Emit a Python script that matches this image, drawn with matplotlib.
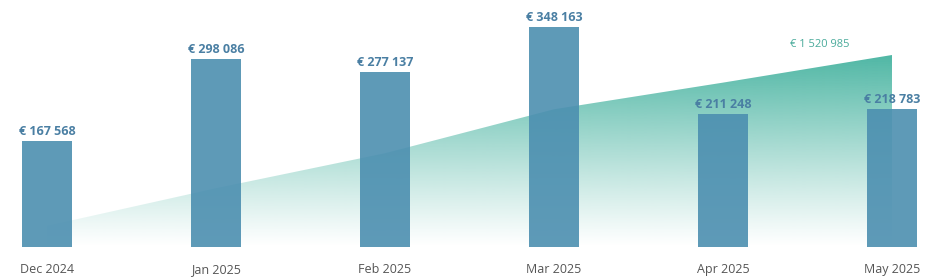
import numpy as np
import matplotlib.pyplot as plt
from matplotlib.colors import to_rgb

months = ["Dec 2024", "Jan 2025", "Feb 2025", "Mar 2025", "Apr 2025", "May 2025"]
revenue = [167568, 298086, 277137, 348163, 211248, 218783]
cumulative = np.cumsum(revenue)

bar_color = "#4c8fb0"
label_color = "#4a7fa3"
area_color = "#50b7a5"

def fmt_eur(v):
    return "€ " + "{:,}".format(int(v)).replace(",", " ")

plt.rcParams['font.family'] = 'Open Sans'

fig = plt.figure(figsize=(9.39, 2.79), dpi=100)
ax = fig.add_axes([22 / 939, 32 / 279, 895 / 939, 247 / 279])
ax2 = ax.twinx()
ax.set_zorder(ax2.get_zorder() + 1)
ax.patch.set_visible(False)

x = np.arange(len(months))

# cumulative area with vertical gradient
ymax2 = 1956700
ax2.set_ylim(0, ymax2)
poly = ax2.fill_between(x, 0, cumulative, color="none", lw=0)
top = cumulative.max()
n = 256
grad = np.zeros((n, 1, 4))
grad[:, 0, :3] = to_rgb(area_color)
grad[:, 0, 3] = np.linspace(1.0, 0.0, n) ** 1.1
img = ax2.imshow(grad, extent=[x[0], x[-1], 0, top], aspect="auto",
                 origin="upper", interpolation="bicubic", zorder=1)
img.set_clip_path(poly.get_paths()[0], transform=ax2.transData)
ax2.text(x[-1] - 0.43, cumulative[-1] + 36000, fmt_eur(cumulative[-1]),
         ha="center", va="bottom", fontsize=8, color="#4aab9b")

# monthly bars
ax.bar(x, revenue, width=0.296, color=bar_color, alpha=0.9, zorder=3)
for xi, v in zip(x, revenue):
    ax.annotate(fmt_eur(v), (xi, v), xytext=(0, 2), textcoords="offset points",
                ha="center", va="bottom", fontsize=9, fontweight="bold",
                color=label_color)

ax.set_xlim(-0.148, 5.148)
ax.set_ylim(0, 390900)
ax.set_yticks([])
ax2.set_yticks([])
ax.set_xticks(x)
ax.set_xticklabels([])
ax.tick_params(axis="x", length=0)
# month labels, all on one baseline
for xi, m in zip(x, months):
    ax.annotate(m, (xi, 0), xytext=(0, -19), textcoords="offset points",
                ha="center", va="baseline", fontsize=9, color="#555555")
for a in (ax, ax2):
    for s in a.spines.values():
        s.set_visible(False)

fig.savefig("out.png", dpi=100)
